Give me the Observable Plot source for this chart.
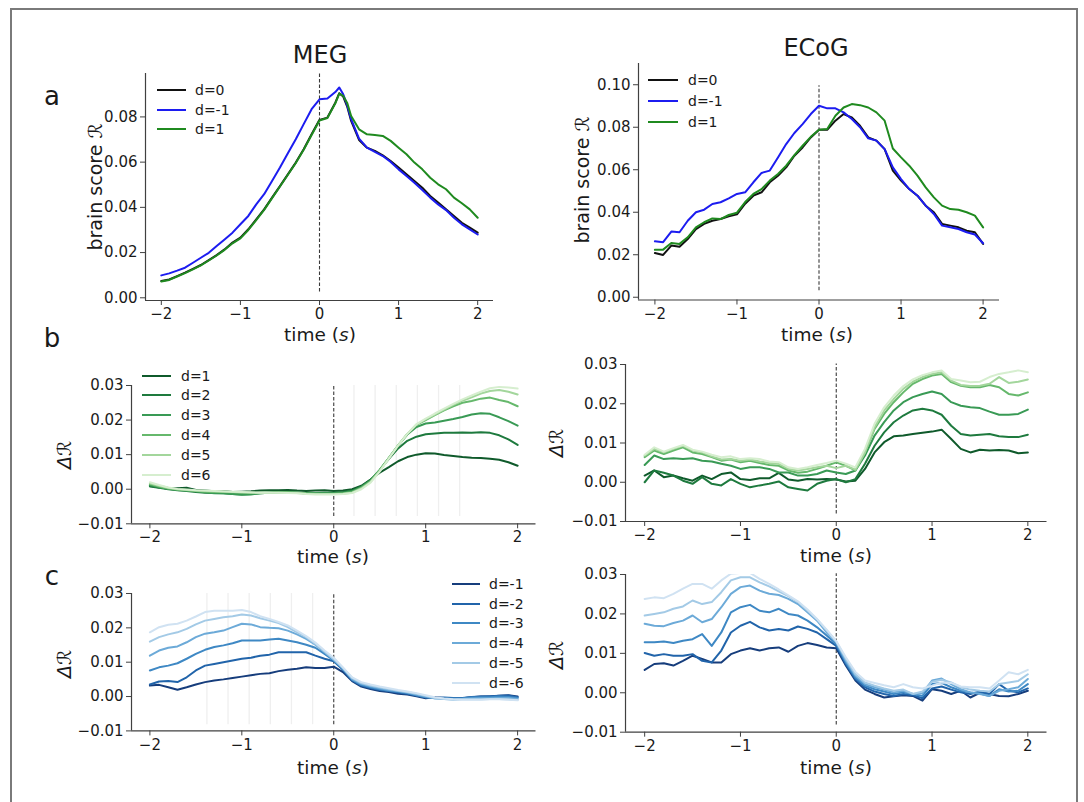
<!DOCTYPE html>
<html><head><meta charset="utf-8">
<script src="https://cdn.jsdelivr.net/npm/d3@7"></script>
<script src="https://cdn.jsdelivr.net/npm/@observablehq/plot@0.6"></script>
<style>
body{margin:0;background:#fff;font-family:"DejaVu Sans",sans-serif;}
#fig{position:relative;width:1084px;height:802px;overflow:hidden;background:#fff;}
#border{position:absolute;left:10px;top:8px;width:1068px;height:830px;border:2px solid #7a7a7a;box-sizing:border-box;}
.txt{position:absolute;white-space:nowrap;color:#1a1a1a;line-height:1;}
.sw{position:absolute;height:2.5px;}
</style></head><body><div id="fig"><div id="border"></div></div>
<script>
// ---------- data ----------
const times = [-2,-1.9,-1.8,-1.7,-1.6,-1.5,-1.4,-1.3,-1.2,-1.1,-1,-0.9,-0.8,-0.7,-0.6,-0.5,-0.4,-0.3,-0.2,-0.1,0,0.1,0.2,0.3,0.4,0.5,0.6,0.7,0.8,0.9,1,1.1,1.2,1.3,1.4,1.5,1.6,1.7,1.8,1.9,2];
const timesMegA = [-2,-1.9,-1.8,-1.7,-1.6,-1.5,-1.4,-1.3,-1.2,-1.1,-1,-0.9,-0.8,-0.7,-0.6,-0.5,-0.4,-0.3,-0.2,-0.1,0,0.1,0.2,0.25,0.3,0.35,0.4,0.5,0.6,0.7,0.8,0.9,1,1.1,1.2,1.3,1.4,1.5,1.6,1.7,1.8,1.9,2];
const xTicks = [-2,-1,0,1,2];
const yTicksMegA = [0,0.02,0.04,0.06,0.08];
const yTicksEcogA = [0,0.02,0.04,0.06,0.08,0.10];
const yTicksDelta = [-0.01,0,0.01,0.02,0.03];

// panel a, MEG
const megA_d0 = [0.0074,0.0081,0.0096,0.0111,0.0128,0.0145,0.0167,0.0189,0.0214,0.0244,0.0266,0.0303,0.0347,0.0391,0.0443,0.0494,0.0546,0.0598,0.0657,0.0723,0.0787,0.0797,0.0863,0.0905,0.0890,0.0846,0.0782,0.0698,0.0664,0.0650,0.0630,0.0605,0.0576,0.0546,0.0517,0.0487,0.0450,0.0421,0.0391,0.0362,0.0332,0.0310,0.0288];
const megA_dm1 = [0.0099,0.0108,0.0120,0.0133,0.0155,0.0177,0.0199,0.0229,0.0258,0.0288,0.0325,0.0362,0.0413,0.0458,0.0517,0.0576,0.0639,0.0701,0.0768,0.0834,0.0878,0.0881,0.0910,0.0930,0.0900,0.0852,0.0790,0.0704,0.0664,0.0645,0.0627,0.0601,0.0568,0.0539,0.0509,0.0477,0.0443,0.0413,0.0388,0.0354,0.0325,0.0303,0.0280];
const megA_d1 = [0.0072,0.0079,0.0094,0.0109,0.0126,0.0143,0.0165,0.0187,0.0212,0.0241,0.0263,0.0300,0.0344,0.0389,0.0441,0.0492,0.0544,0.0596,0.0655,0.0720,0.0784,0.0795,0.0860,0.0903,0.0893,0.0862,0.0804,0.0745,0.0723,0.0720,0.0716,0.0694,0.0664,0.0635,0.0598,0.0568,0.0531,0.0502,0.0480,0.0443,0.0418,0.0391,0.0354];

// panel a, ECoG
const ecogA_d0 = [0.0208,0.0199,0.0243,0.0238,0.0274,0.0321,0.0345,0.0360,0.0368,0.0381,0.0390,0.0440,0.0478,0.0494,0.0541,0.0572,0.0611,0.0666,0.0705,0.0752,0.0788,0.0788,0.0831,0.0862,0.0846,0.0807,0.0752,0.0737,0.0697,0.0596,0.0549,0.0509,0.0478,0.0431,0.0400,0.0345,0.0337,0.0329,0.0313,0.0306,0.0251];
const ecogA_dm1 = [0.0263,0.0259,0.0309,0.0306,0.0360,0.0400,0.0412,0.0439,0.0447,0.0465,0.0486,0.0494,0.0541,0.0585,0.0596,0.0658,0.0721,0.0773,0.0815,0.0862,0.0901,0.0889,0.0889,0.0870,0.0839,0.0800,0.0748,0.0737,0.0697,0.0611,0.0556,0.0509,0.0478,0.0431,0.0392,0.0337,0.0329,0.0321,0.0306,0.0295,0.0254];
const ecogA_d1 = [0.0223,0.0224,0.0255,0.0251,0.0282,0.0329,0.0353,0.0371,0.0368,0.0387,0.0398,0.0448,0.0486,0.0509,0.0549,0.0580,0.0619,0.0669,0.0713,0.0755,0.0788,0.0792,0.0854,0.0893,0.0909,0.0904,0.0893,0.0870,0.0831,0.0700,0.0658,0.0619,0.0572,0.0517,0.0470,0.0431,0.0415,0.0412,0.0400,0.0384,0.0329];

// panel b, MEG (d=1..6)
const megB = [
 [0.0010,0.0005,0.0002,0.0003,0.0004,-0.0002,-0.0004,-0.0006,-0.0005,-0.0008,-0.0007,-0.0006,-0.0004,-0.0003,-0.0003,-0.0002,-0.0004,-0.0005,-0.0004,-0.0003,-0.0005,-0.0004,0.0000,0.0010,0.0028,0.0048,0.0064,0.0081,0.0093,0.0100,0.0104,0.0103,0.0099,0.0096,0.0093,0.0091,0.0090,0.0088,0.0085,0.0078,0.0068],
 [0.0008,0.0004,0.0000,-0.0003,-0.0005,-0.0008,-0.0010,-0.0011,-0.0012,-0.0014,-0.0015,-0.0014,-0.0012,-0.0010,-0.0008,-0.0008,-0.0010,-0.0012,-0.0012,-0.0010,-0.0010,-0.0008,-0.0004,0.0008,0.0027,0.0055,0.0088,0.0118,0.0140,0.0152,0.0159,0.0161,0.0163,0.0163,0.0164,0.0163,0.0165,0.0163,0.0156,0.0144,0.0128],
 [0.0012,0.0006,0.0001,-0.0002,-0.0004,-0.0006,-0.0009,-0.0012,-0.0012,-0.0014,-0.0016,-0.0015,-0.0012,-0.0010,-0.0009,-0.0008,-0.0010,-0.0012,-0.0012,-0.0012,-0.0012,-0.0010,-0.0006,0.0006,0.0025,0.0056,0.0091,0.0126,0.0158,0.0180,0.0190,0.0193,0.0198,0.0203,0.0209,0.0216,0.0220,0.0218,0.0208,0.0197,0.0184],
 [0.0015,0.0008,0.0002,-0.0001,-0.0003,-0.0005,-0.0007,-0.0008,-0.0008,-0.0009,-0.0010,-0.0010,-0.0010,-0.0010,-0.0009,-0.0009,-0.0010,-0.0012,-0.0013,-0.0013,-0.0013,-0.0012,-0.0008,0.0004,0.0023,0.0055,0.0091,0.0127,0.0160,0.0186,0.0200,0.0214,0.0228,0.0240,0.0250,0.0255,0.0262,0.0265,0.0258,0.0252,0.0240],
 [0.0017,0.0010,0.0004,0.0000,-0.0002,-0.0004,-0.0005,-0.0006,-0.0007,-0.0008,-0.0009,-0.0010,-0.0010,-0.0010,-0.0010,-0.0010,-0.0011,-0.0013,-0.0014,-0.0014,-0.0014,-0.0013,-0.0010,0.0002,0.0021,0.0053,0.0090,0.0127,0.0160,0.0187,0.0202,0.0216,0.0230,0.0244,0.0256,0.0266,0.0277,0.0284,0.0287,0.0282,0.0274],
 [0.0020,0.0012,0.0005,0.0001,-0.0001,-0.0003,-0.0004,-0.0005,-0.0006,-0.0007,-0.0008,-0.0009,-0.0010,-0.0010,-0.0010,-0.0011,-0.0012,-0.0014,-0.0015,-0.0015,-0.0015,-0.0014,-0.0011,0.0000,0.0019,0.0051,0.0089,0.0126,0.0160,0.0188,0.0204,0.0219,0.0233,0.0247,0.0260,0.0271,0.0282,0.0292,0.0296,0.0294,0.0291]
];
// panel b, ECoG (d=1..6)
const ecogB = [
 [0.0017,0.0030,0.0013,0.0017,0.0010,0.0004,0.0017,0.0008,0.0021,0.0025,0.0008,0.0006,0.0010,0.0010,0.0024,0.0007,0.0004,0.0008,0.0007,0.0008,0.0007,0.0002,0.0004,0.0034,0.0076,0.0102,0.0117,0.0119,0.0123,0.0126,0.0129,0.0134,0.0110,0.0085,0.0076,0.0083,0.0081,0.0082,0.0081,0.0074,0.0076],
 [0.0000,0.0030,0.0024,0.0017,0.0004,-0.0004,0.0013,-0.0004,-0.0008,0.0008,-0.0004,-0.0013,-0.0008,-0.0004,0.0002,-0.0013,-0.0017,-0.0021,-0.0004,0.0004,0.0008,0.0000,0.0008,0.0047,0.0093,0.0127,0.0153,0.0170,0.0183,0.0187,0.0183,0.0172,0.0144,0.0123,0.0119,0.0121,0.0123,0.0117,0.0115,0.0115,0.0121],
 [0.0044,0.0068,0.0059,0.0061,0.0059,0.0061,0.0055,0.0053,0.0047,0.0042,0.0034,0.0038,0.0038,0.0034,0.0025,0.0025,0.0017,0.0017,0.0021,0.0030,0.0025,0.0021,0.0030,0.0068,0.0119,0.0153,0.0183,0.0204,0.0217,0.0225,0.0231,0.0225,0.0204,0.0195,0.0191,0.0189,0.0180,0.0172,0.0172,0.0174,0.0185],
 [0.0064,0.0081,0.0072,0.0081,0.0089,0.0076,0.0072,0.0064,0.0055,0.0058,0.0051,0.0055,0.0049,0.0044,0.0042,0.0030,0.0024,0.0027,0.0034,0.0042,0.0051,0.0042,0.0030,0.0076,0.0136,0.0174,0.0204,0.0229,0.0251,0.0263,0.0272,0.0276,0.0255,0.0246,0.0242,0.0242,0.0248,0.0242,0.0225,0.0221,0.0229],
 [0.0068,0.0085,0.0076,0.0085,0.0093,0.0081,0.0076,0.0066,0.0058,0.0059,0.0055,0.0058,0.0053,0.0049,0.0047,0.0034,0.0030,0.0034,0.0038,0.0042,0.0036,0.0042,0.0032,0.0076,0.0140,0.0183,0.0212,0.0238,0.0256,0.0268,0.0276,0.0280,0.0259,0.0248,0.0245,0.0246,0.0251,0.0268,0.0253,0.0256,0.0262],
 [0.0070,0.0089,0.0078,0.0087,0.0095,0.0083,0.0078,0.0070,0.0064,0.0066,0.0059,0.0061,0.0059,0.0053,0.0051,0.0038,0.0034,0.0038,0.0044,0.0049,0.0055,0.0047,0.0038,0.0085,0.0149,0.0191,0.0221,0.0245,0.0262,0.0273,0.0280,0.0285,0.0263,0.0259,0.0255,0.0256,0.0268,0.0276,0.0280,0.0285,0.0280]
];
// panel c, MEG (d=-1..-6)
const megC = [
 [0.0032,0.0034,0.0027,0.0020,0.0027,0.0035,0.0042,0.0047,0.0050,0.0054,0.0058,0.0062,0.0066,0.0068,0.0074,0.0078,0.0081,0.0085,0.0083,0.0083,0.0087,0.0071,0.0045,0.0029,0.0022,0.0016,0.0013,0.0008,0.0006,0.0001,-0.0005,-0.0002,-0.0004,-0.0004,-0.0005,-0.0002,0.0000,0.0000,0.0002,0.0004,0.0000],
 [0.0035,0.0044,0.0045,0.0042,0.0056,0.0076,0.0090,0.0095,0.0100,0.0105,0.0110,0.0113,0.0119,0.0122,0.0129,0.0129,0.0129,0.0129,0.0119,0.0110,0.0103,0.0078,0.0047,0.0032,0.0025,0.0019,0.0016,0.0012,0.0008,0.0003,-0.0002,-0.0004,-0.0003,-0.0004,-0.0004,-0.0001,0.0000,0.0001,0.0002,0.0003,-0.0002],
 [0.0076,0.0085,0.0090,0.0097,0.0110,0.0124,0.0136,0.0144,0.0149,0.0155,0.0163,0.0163,0.0163,0.0166,0.0168,0.0163,0.0158,0.0151,0.0142,0.0124,0.0105,0.0080,0.0049,0.0034,0.0027,0.0021,0.0017,0.0014,0.0010,0.0004,-0.0002,-0.0005,-0.0005,-0.0006,-0.0005,-0.0003,-0.0002,-0.0002,0.0000,-0.0001,-0.0004],
 [0.0119,0.0134,0.0142,0.0146,0.0158,0.0173,0.0183,0.0187,0.0192,0.0202,0.0212,0.0210,0.0202,0.0200,0.0199,0.0192,0.0181,0.0168,0.0151,0.0129,0.0107,0.0082,0.0051,0.0037,0.0030,0.0024,0.0019,0.0016,0.0012,0.0006,0.0000,-0.0005,-0.0007,-0.0008,-0.0007,-0.0006,-0.0005,-0.0005,-0.0004,-0.0004,-0.0007],
 [0.0160,0.0173,0.0181,0.0187,0.0197,0.0210,0.0221,0.0226,0.0231,0.0234,0.0239,0.0236,0.0228,0.0221,0.0214,0.0202,0.0187,0.0173,0.0153,0.0131,0.0109,0.0083,0.0054,0.0039,0.0032,0.0027,0.0022,0.0017,0.0013,0.0008,0.0002,-0.0004,-0.0007,-0.0009,-0.0008,-0.0008,-0.0008,-0.0007,-0.0007,-0.0008,-0.0010],
 [0.0187,0.0202,0.0209,0.0212,0.0221,0.0233,0.0246,0.0250,0.0250,0.0250,0.0252,0.0246,0.0234,0.0226,0.0217,0.0207,0.0192,0.0176,0.0157,0.0134,0.0113,0.0085,0.0056,0.0042,0.0035,0.0029,0.0024,0.0019,0.0015,0.0010,0.0004,-0.0002,-0.0006,-0.0008,-0.0009,-0.0009,-0.0009,-0.0008,-0.0008,-0.0009,-0.0011]
];
// panel c, ECoG (d=-1..-6)
const ecogC = [
 [0.0058,0.0073,0.0075,0.0069,0.0081,0.0094,0.0086,0.0077,0.0077,0.0098,0.0107,0.0113,0.0107,0.0113,0.0115,0.0104,0.0119,0.0126,0.0121,0.0115,0.0113,0.0069,0.0031,0.0008,-0.0003,-0.0012,-0.0009,-0.0006,-0.0008,-0.0020,0.0009,0.0005,-0.0003,0.0005,-0.0012,0.0000,-0.0003,-0.0008,-0.0009,-0.0003,0.0005],
 [0.0101,0.0094,0.0098,0.0094,0.0094,0.0098,0.0081,0.0077,0.0107,0.0153,0.0170,0.0180,0.0166,0.0158,0.0162,0.0158,0.0168,0.0162,0.0153,0.0136,0.0119,0.0073,0.0035,0.0014,0.0003,-0.0003,-0.0008,-0.0003,-0.0006,-0.0014,0.0011,0.0016,0.0008,0.0001,-0.0003,0.0003,-0.0003,0.0022,0.0005,0.0001,0.0011],
 [0.0128,0.0128,0.0130,0.0126,0.0132,0.0136,0.0149,0.0119,0.0153,0.0204,0.0217,0.0223,0.0208,0.0204,0.0213,0.0200,0.0196,0.0183,0.0166,0.0145,0.0124,0.0077,0.0039,0.0018,0.0009,0.0003,-0.0003,0.0001,-0.0003,-0.0008,0.0022,0.0025,0.0014,0.0005,0.0001,-0.0002,-0.0008,0.0009,0.0003,0.0005,0.0022],
 [0.0175,0.0170,0.0169,0.0177,0.0183,0.0196,0.0179,0.0187,0.0217,0.0251,0.0268,0.0272,0.0259,0.0251,0.0248,0.0238,0.0225,0.0204,0.0183,0.0153,0.0128,0.0081,0.0043,0.0022,0.0014,0.0008,0.0001,0.0005,-0.0003,-0.0001,0.0031,0.0036,0.0022,0.0009,0.0001,-0.0003,-0.0008,0.0005,0.0009,0.0014,0.0035],
 [0.0196,0.0200,0.0204,0.0213,0.0219,0.0234,0.0225,0.0230,0.0255,0.0285,0.0293,0.0293,0.0280,0.0270,0.0257,0.0245,0.0230,0.0208,0.0186,0.0158,0.0130,0.0086,0.0047,0.0026,0.0018,0.0011,0.0005,0.0008,-0.0003,0.0003,0.0028,0.0033,0.0026,0.0014,0.0008,0.0005,0.0003,0.0022,0.0026,0.0030,0.0047],
 [0.0238,0.0242,0.0240,0.0251,0.0264,0.0276,0.0276,0.0264,0.0285,0.0302,0.0304,0.0304,0.0289,0.0276,0.0262,0.0247,0.0232,0.0211,0.0187,0.0160,0.0131,0.0090,0.0053,0.0031,0.0025,0.0019,0.0014,0.0022,0.0014,0.0011,0.0018,0.0026,0.0025,0.0016,0.0014,0.0014,0.0011,0.0031,0.0052,0.0047,0.0058]
];
// word-onset guide lines
const guidesB = [0.22,0.45,0.68,0.91,1.14,1.37];
const guidesC = [-0.23,-0.46,-0.69,-0.92,-1.15,-1.38];

const labelsA = ["d=0","d=-1","d=1"];
const labelsB = ["d=1","d=2","d=3","d=4","d=5","d=6"];
const labelsC = ["d=-1","d=-2","d=-3","d=-4","d=-5","d=-6"];
const colorsA = ["#111111","#1c1cf0","#1f8a1f"];
const greens = ["#0f5a2b","#1e7a3e","#399a55","#66b86c","#a3d69c","#d6eecf"];
const blues = ["#163d7c","#2164aa","#3e88c4","#6caad8","#a3cae6","#d0e2f2"];

// ---------- drawing ----------
const fig = document.getElementById("fig");
const fmtX = d3.format("d"), fmtY = d3.format(".2f");

function panel(p) {
  const ML = 80, MR = 14, MT = 14, MB = 34;
  const fw = p.x1 - p.x0, fh = p.y1 - p.y0;
  const marks = [];
  if (p.guides) marks.push(Plot.ruleX(p.guides, {y1: p.guideLo, y2: p.ydom[1], stroke: "#efefef", strokeWidth: 1.3}));
  marks.push(Plot.ruleX([0], {y1: p.dashLo, y2: p.dashHi, stroke: "#3a3a3a", strokeWidth: 1.1, strokeDasharray: "3.5,2"}));
  p.series.forEach((vals, k) => {
    const rows = vals.map((v, i) => ({t: p.times[i], v}));
    marks.push(Plot.line(rows, {x: "t", y: "v", stroke: p.colors[k], strokeWidth: 2, clip: true}));
  });
  marks.push(Plot.ruleX([-2.2], {stroke: "#404040", strokeWidth: 1.2}));
  marks.push(Plot.ruleY([p.ydom[0]], {stroke: "#404040", strokeWidth: 1.2}));
  marks.push(Plot.axisX({ticks: xTicks, tickFormat: fmtX, tickSize: 5, tickPadding: 3, label: null, stroke: "#404040", fill: "#1a1a1a"}));
  marks.push(Plot.axisY({ticks: p.yticks, tickFormat: fmtY, tickSize: 5, tickPadding: 3, label: null, stroke: "#404040", fill: "#1a1a1a"}));
  const svg = Plot.plot({
    width: fw + ML + MR, height: fh + MT + MB,
    marginLeft: ML, marginRight: MR, marginTop: MT, marginBottom: MB,
    x: {domain: [-2.2, 2.2]}, y: {domain: p.ydom},
    style: {fontFamily: "DejaVu Sans", fontSize: "15px", background: "transparent", overflow: "visible", maxWidth: "none"},
    marks
  });
  svg.style.position = "absolute";
  svg.style.left = (p.x0 - ML) + "px";
  svg.style.top = (p.y0 - MT) + "px";
  fig.appendChild(svg);
}

function text(html, x, y, size, rot) {
  const el = document.createElement("div");
  el.className = "txt";
  el.innerHTML = html;
  el.style.left = x + "px"; el.style.top = y + "px"; el.style.fontSize = size + "px";
  el.style.transform = "translate(-50%,-50%)" + (rot ? " rotate(-90deg)" : "");
  fig.appendChild(el);
}
function legend(labels, colors, lx0, lx1, tx, ys, size) {
  labels.forEach((lab, i) => {
    const sw = document.createElement("div");
    sw.className = "sw";
    sw.style.left = lx0 + "px"; sw.style.width = (lx1 - lx0) + "px";
    sw.style.top = (ys[i] - 1.25) + "px"; sw.style.background = colors[i];
    fig.appendChild(sw);
    const el = document.createElement("div");
    el.className = "txt"; el.textContent = lab;
    el.style.left = tx + "px"; el.style.top = ys[i] + "px"; el.style.fontSize = size + "px";
    el.style.transform = "translateY(-50%)";
    fig.appendChild(el);
  });
}

panel({x0: 145, x1: 493, y0: 72.5, y1: 299.5, ydom: [-0.0012, 0.0992], yticks: yTicksMegA,
  times: timesMegA, series: [megA_d0, megA_dm1, megA_d1], colors: colorsA, dashLo: 0.0026, dashHi: 0.0992});
panel({x0: 637.5, x1: 998.5, y0: 63, y1: 299.5, ydom: [-0.0013, 0.11], yticks: yTicksEcogA,
  times: times, series: [ecogA_d0, ecogA_dm1, ecogA_d1], colors: colorsA, dashLo: 0.003, dashHi: 0.0995});
panel({x0: 130.5, x1: 535, y0: 385, y1: 523.3, ydom: [-0.01, 0.03], yticks: yTicksDelta,
  times: times, series: megB, colors: greens, guides: guidesB, guideLo: -0.0079, dashLo: -0.0079, dashHi: 0.03});
panel({x0: 625, x1: 1046.5, y0: 364, y1: 521, ydom: [-0.01, 0.03], yticks: yTicksDelta,
  times: times, series: ecogB, colors: greens, dashLo: -0.0081, dashHi: 0.0301});
panel({x0: 130.5, x1: 535, y0: 593.3, y1: 730.7, ydom: [-0.01, 0.03], yticks: yTicksDelta,
  times: times, series: megC, colors: blues, guides: guidesC, guideLo: -0.0082, dashLo: -0.0082, dashHi: 0.03});
panel({x0: 625, x1: 1046.5, y0: 574, y1: 731.7, ydom: [-0.01, 0.03], yticks: yTicksDelta,
  times: times, series: ecogC, colors: blues, dashLo: -0.0082, dashHi: 0.0302});

// titles, panel letters, axis labels
text("MEG", 320, 55, 24);
text("ECoG", 816, 48, 24);
text("a", 52, 96, 26);
text("b", 52, 338, 26);
text("c", 52, 576, 26);
const tl = "time (<i>s</i>)";
text(tl, 320, 335, 18.5); text(tl, 817, 335, 18.5);
text(tl, 333, 557, 18.5); text(tl, 836, 556, 18.5);
text(tl, 333, 768, 18.5); text(tl, 836, 768, 18.5);
text("brain score <i>ℛ</i>", 95, 187, 19, true);
text("brain score <i>ℛ</i>", 582, 180, 19, true);
text("<i>Δℛ</i>", 64, 455, 19, true);
text("<i>Δℛ</i>", 556, 443, 19, true);
text("<i>Δℛ</i>", 64, 664, 19, true);
text("<i>Δℛ</i>", 556, 655, 19, true);

// legends
legend(labelsA, colorsA, 157, 186, 195, [90, 110, 129], 14);
legend(labelsA, colorsA, 648, 678, 688, [80, 101, 122], 14);
legend(labelsB, greens, 142, 171, 181, [376, 395, 415, 435, 455, 475], 14);
legend(labelsC, blues, 452, 480, 489, [584, 604, 623, 643, 663, 683], 14);
</script></body></html>
